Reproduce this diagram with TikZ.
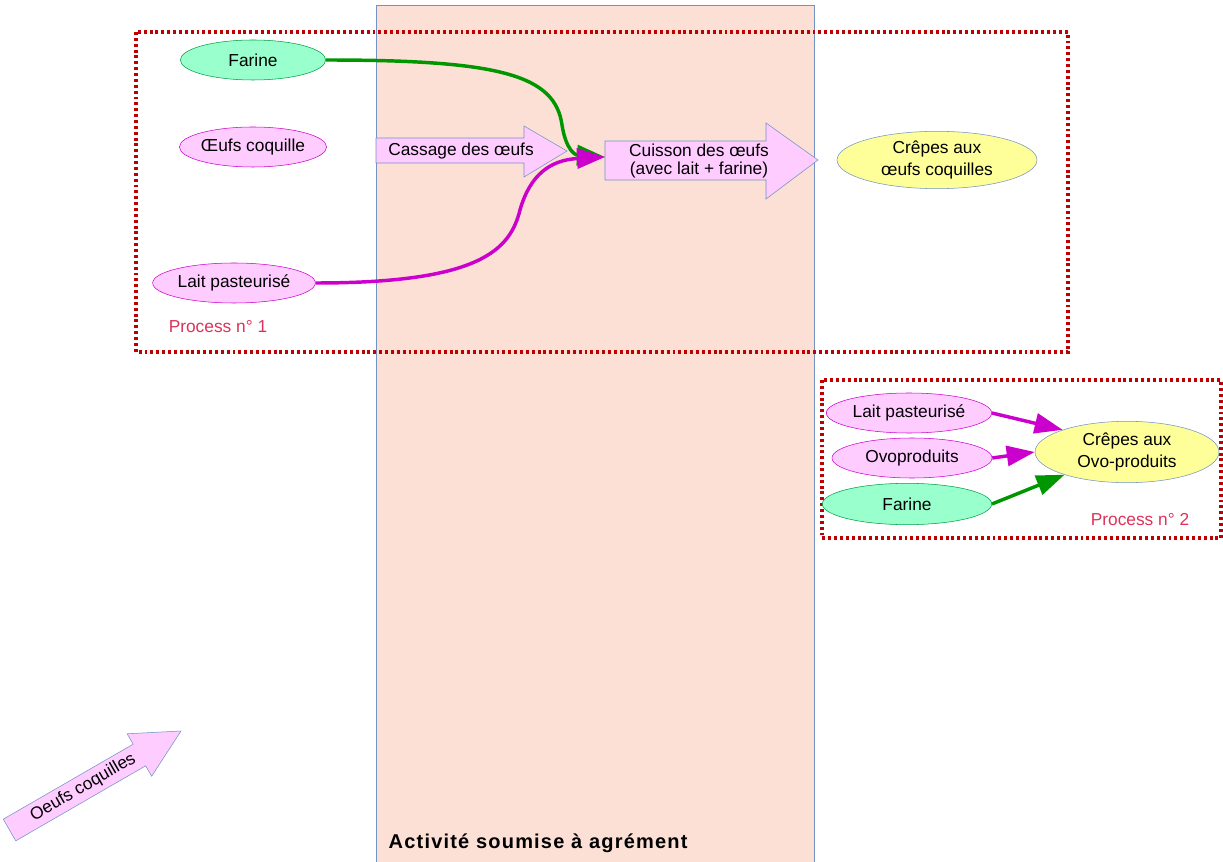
\documentclass[tikz,border=0pt]{standalone}
\usepackage{fontspec}
\setmainfont{Liberation Sans}
\usetikzlibrary{arrows.meta,shapes.geometric}

\definecolor{agfill}{RGB}{252,224,214}
\definecolor{agline}{RGB}{114,146,196}
\definecolor{procred}{RGB}{192,0,0}
\definecolor{proctext}{RGB}{220,50,90}
\definecolor{pinkfill}{RGB}{255,204,255}
\definecolor{pinkline}{RGB}{204,0,204}
\definecolor{greenfill}{RGB}{153,255,204}
\definecolor{greenline}{RGB}{0,160,70}
\definecolor{yellowfill}{RGB}{255,255,153}
\definecolor{flowgreen}{RGB}{0,150,0}

\begin{document}
\begin{tikzpicture}[x=0.75pt,y=-0.75pt,
    font=\fontsize{13}{15}\selectfont,
    ingred/.style = {ellipse, draw=pinkline, fill=pinkfill, inner sep=0pt},
    flour/.style = {ellipse, draw=greenline, fill=greenfill, inner sep=0pt},
    crepe/.style = {ellipse, draw=agline, fill=yellowfill, inner sep=0pt, align=center,
            font=\fontsize{13}{16}\selectfont},
    stagebox/.style = {draw=agline, fill=pinkfill, line join=miter},
    procbox/.style = {draw=procred, line width=2.4pt, dash pattern=on 2.2pt off 2.2pt},
    proclabel/.style = {text=proctext},
    flow/.style = {line width=2.6pt, -{Triangle[length=21pt,width=15pt]}}]
        \useasboundingbox (0,0) rectangle (1223,862);

        % zone soumise a agrement
        \fill[agfill] (376,5) rectangle (814,862);
        \draw[agline] (376,862) |- (814,5) -- (814,862);
        \node [anchor=base west, font=\fontsize{15}{18}\selectfont\bfseries\addfontfeature{LetterSpace=6}]
            (agrement) at (384,848) {Activité soumise à agrément};

        % process 1
        \draw[procbox] (136,32) rectangle (1068,352);
        \node [proclabel] (proc1) at (218,327) {Process n° 1};
        \node [flour, minimum width=109pt, minimum height=30pt] (farine1) at (253,60) {Farine};
        \node [ingred, minimum width=108pt, minimum height=30pt] (oeufs) at (253,147) {Œufs coquille};
        \node [ingred, minimum width=122pt, minimum height=30pt] (lait1) at (234,283) {Lait pasteurisé};

        \draw[stagebox] (376,138) -- (524,138) -- (524,126) -- (567,151)
            -- (524,177) -- (524,163) -- (376,163) -- cycle;
        \node (cassage) at (461,151) {Cassage des œufs};
        \draw[stagebox] (605,141) -- (766,141) -- (766,123) -- (818,160)
            -- (766,199) -- (766,180) -- (605,180) -- cycle;
        \node [align=center, font=\fontsize{13}{14}\selectfont] (cuisson) at (699,161)
            {Cuisson des œufs\\(avec lait + farine)};
        \coordinate (cuissonin) at (605,157);

        \node [crepe, minimum width=150pt, minimum height=43pt] (crepes1) at (937,160)
            {Crêpes aux\\œufs coquilles};

        \draw[flow, flowgreen] (farine1.east) .. controls (500,60) and (555,75) .. (562,125)
            .. controls (566,150) and (575,155) .. (cuissonin);
        \draw[flow, pinkline] (lait1.east) .. controls (480,283) and (510,250) .. (520,210)
            .. controls (530,175) and (550,160) .. (cuissonin);

        % process 2
        \draw[procbox] (822,380) rectangle (1221,538);
        \node [proclabel] (proc2) at (1140,520) {Process n° 2};
        \node [ingred, minimum width=124pt, minimum height=30pt] (lait2) at (909,413) {Lait pasteurisé};
        \node [ingred, minimum width=120pt, minimum height=30pt] (ovo) at (912,458) {Ovoproduits};
        \node [flour, minimum width=127pt, minimum height=31pt] (farine2) at (907,504) {Farine};
        \node [crepe, minimum width=138pt, minimum height=46pt] (crepes2) at (1127,452)
            {Crêpes aux\\Ovo-produits};

        \draw[flow, pinkline] (lait2.east) -- (crepes2.161);
        \draw[flow, pinkline] (ovo.east) -- (crepes2.west);
        \draw[flow, flowgreen] (farine2.east) -- (crepes2.200);

        % arrivee des oeufs
        \begin{scope}[shift={(9.5,830)}, rotate=30]
            \draw[stagebox] (0,-12.5) -- (150,-12.5) -- (150,-24.5) -- (198,0)
                -- (150,24.5) -- (150,12.5) -- (0,12.5) -- cycle;
            \node [transform shape] (arrivee) at (85,0) {Oeufs coquilles};
        \end{scope}
\end{tikzpicture}
\end{document}
